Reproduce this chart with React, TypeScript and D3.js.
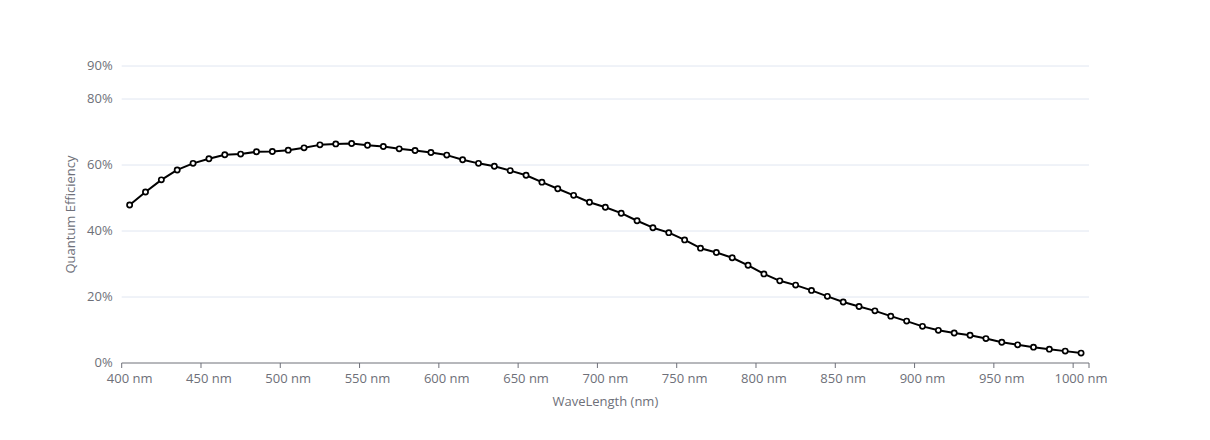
import React from "react";
import * as d3 from "d3";

const wavelengths: number[] = [
  400, 410, 420, 430, 440, 450, 460, 470, 480, 490,
  500, 510, 520, 530, 540, 550, 560, 570, 580, 590,
  600, 610, 620, 630, 640, 650, 660, 670, 680, 690,
  700, 710, 720, 730, 740, 750, 760, 770, 780, 790,
  800, 810, 820, 830, 840, 850, 860, 870, 880, 890,
  900, 910, 920, 930, 940, 950, 960, 970, 980, 990, 1000,
];

const efficiency: number[] = [
  47.9, 51.8, 55.5, 58.5, 60.5, 61.9, 63.1, 63.3, 64.0, 64.1,
  64.5, 65.2, 66.1, 66.4, 66.5, 66.0, 65.6, 64.9, 64.4, 63.8,
  63.0, 61.6, 60.5, 59.6, 58.3, 56.9, 54.8, 52.8, 50.8, 48.7,
  47.2, 45.4, 43.1, 41.0, 39.5, 37.3, 34.8, 33.5, 31.9, 29.6,
  27.0, 24.9, 23.6, 22.0, 20.2, 18.5, 17.1, 15.8, 14.2, 12.7,
  11.1, 9.9, 9.1, 8.4, 7.4, 6.3, 5.5, 4.8, 4.2, 3.6, 3.0,
];

const yTicks: number[] = [0, 20, 40, 60, 80, 90];
const xLabelEvery = 5;
const xAxisName = "WaveLength (nm)";
const yAxisName = "Quantum Efficiency";

const W = 1210;
const H = 440;
const left = 121.7;
const right = 1089;
const top = 66;
const bottom = 363;
const FONT = "'Open Sans', sans-serif";
const AXIS_COLOR = "#6E7079";
const GRID_COLOR = "#E0E6F1";

export default function App() {
  const cats = wavelengths.map(String);
  const x = d3.scaleBand<string>().domain(cats).range([left, right]).padding(0);
  const y = d3.scaleLinear().domain([0, 90]).range([bottom, top]);
  const bw = x.bandwidth();
  const cx = (i: number) => (x(cats[i]) as number) + bw / 2;

  const line = d3
    .line<number>()
    .x((_, i) => cx(i))
    .y((d) => y(d));

  const tickIdx: number[] = [];
  for (let i = 0; i < cats.length; i += xLabelEvery) tickIdx.push(i);

  return (
    <svg
      width={W}
      height={H}
      style={{ position: "absolute", left: 0, top: 0, fontFamily: FONT }}
    >
      {yTicks.map((t) => (
        <g key={t}>
          {t !== 0 && (
            <line x1={left} x2={right} y1={y(t)} y2={y(t)} stroke={GRID_COLOR} strokeWidth={1} />
          )}
          <text
            x={left - 9}
            y={y(t) - 1}
            textAnchor="end"
            dominantBaseline="central"
            fontSize={13}
            fill={AXIS_COLOR}
          >
            {t}%
          </text>
        </g>
      ))}
      <line x1={left} x2={right} y1={bottom} y2={bottom} stroke={AXIS_COLOR} strokeWidth={1} />
      {tickIdx.map((i) => (
        <line
          key={"t" + i}
          x1={x(cats[i]) as number}
          x2={x(cats[i]) as number}
          y1={bottom}
          y2={bottom + 5}
          stroke={AXIS_COLOR}
        />
      ))}
      <line x1={right} x2={right} y1={bottom} y2={bottom + 5} stroke={AXIS_COLOR} />
      {tickIdx.map((i) => (
        <text
          key={"l" + i}
          x={cx(i)}
          y={bottom + 15}
          textAnchor="middle"
          dominantBaseline="central"
          fontSize={13}
          fill={AXIS_COLOR}
        >
          {wavelengths[i]} nm
        </text>
      ))}
      <text
        x={(left + right) / 2}
        y={401}
        textAnchor="middle"
        dominantBaseline="central"
        fontSize={13}
        fill={AXIS_COLOR}
      >
        {xAxisName}
      </text>
      <text
        transform={`translate(70,${(top + bottom) / 2}) rotate(-90)`}
        textAnchor="middle"
        dominantBaseline="central"
        fontSize={13}
        fill={AXIS_COLOR}
      >
        {yAxisName}
      </text>
      <path d={line(efficiency) || ""} fill="none" stroke="#000" strokeWidth={2} strokeLinejoin="bevel" />
      {efficiency.map((v, i) => (
        <circle key={"c" + i} cx={cx(i)} cy={y(v)} r={2.6} fill="#fff" stroke="#000" strokeWidth={1.7} />
      ))}
    </svg>
  );
}
